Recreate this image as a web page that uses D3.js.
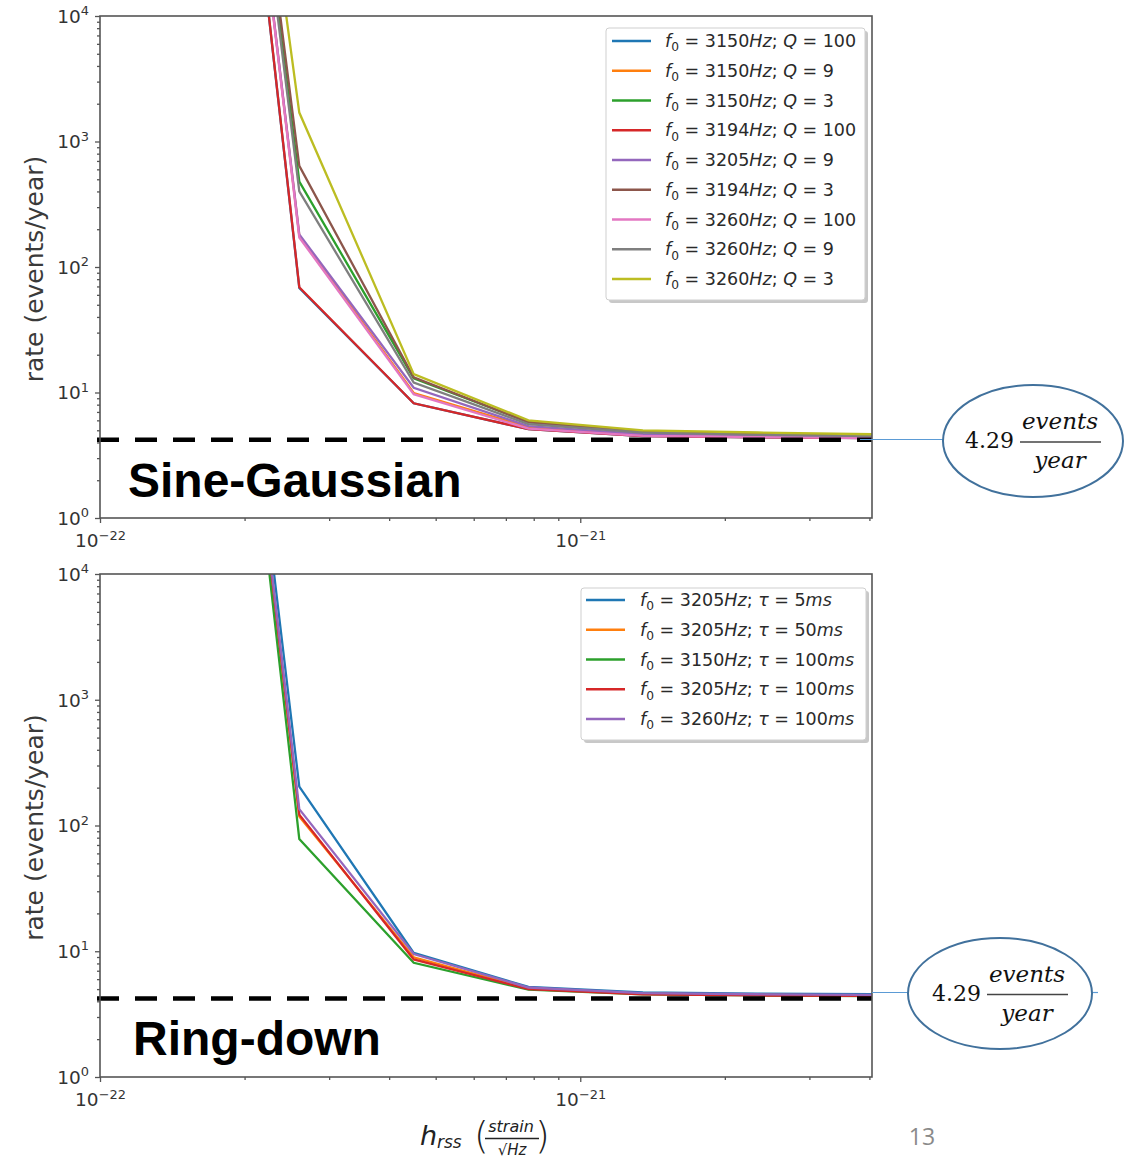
<!DOCTYPE html>
<html><head><meta charset="utf-8">
<script src="https://cdn.jsdelivr.net/npm/d3@7"></script>
<style>body{margin:0;background:#fff} svg{display:block}</style>
</head><body><svg id="c" width="1125" height="1159"></svg>
<script>
// injection amplitudes (hrss, strain/sqrt(Hz))
const hrss = [1.5e-22, 2.6e-22, 4.5e-22, 7.8e-22, 1.35e-21, 2.34e-21, 4.05e-21];

// Sine-Gaussian injections
const sgF0 = [3150, 3150, 3150, 3194, 3205, 3194, 3260, 3260, 3260];
const sgQ  = [100, 9, 3, 100, 9, 3, 100, 9, 3];
const sgRates = [
  [1e10,   68, 8.2,  5.10, 4.50, 4.40, 4.34],
  [1e10,  178, 9.9,  5.30, 4.60, 4.45, 4.38],
  [1e10,  480, 13.0, 5.80, 4.90, 4.70, 4.60],
  [1e10,   69, 8.2,  5.10, 4.50, 4.40, 4.34],
  [1e10,  182, 10.9, 5.40, 4.65, 4.50, 4.40],
  [1e10,  640, 13.2, 5.80, 4.90, 4.70, 4.55],
  [1e10,  172, 9.7,  5.15, 4.52, 4.42, 4.33],
  [1e10,  400, 12.0, 5.60, 4.80, 4.60, 4.50],
  [1e10, 1700, 14.0, 6.00, 5.00, 4.80, 4.65]
];

// Ring-down injections
const rdF0  = [3205, 3205, 3150, 3205, 3260];
const rdTau = [5, 50, 100, 100, 100];
const rdRates = [
  [1e10, 204, 9.7,  5.20, 4.70, 4.60, 4.55],
  [1e10, 118, 8.95, 5.05, 4.60, 4.50, 4.45],
  [1e10,  78, 8.1,  4.95, 4.55, 4.45, 4.40],
  [1e10, 122, 8.6,  5.00, 4.55, 4.45, 4.42],
  [1e10, 135, 9.5,  5.15, 4.65, 4.55, 4.50]
];

// background rate threshold
const threshold = 4.29;

// axis ticks (decade exponents)
const yTickExps = [0, 1, 2, 3, 4];
const xTickExps = [-22, -21];
const yMinor = [];
for (let e = 0; e < 4; e++) for (let m = 2; m <= 9; m++) yMinor.push(m * Math.pow(10, e));
const xMinor = [2,3,4,5,6,7,8,9].map(m => m * 1e-22).concat([2,3,4].map(m => m * 1e-21));

const colors = d3.schemeCategory10;
const svg = d3.select("#c");
svg.append("rect").attr("width", 1125).attr("height", 1159).attr("fill", "#fff");

const L = 100, R = 872;
const x = d3.scaleLog().domain([1e-22, 4.05e-21]).range([L, R]);

function mathText(g, parts, fs) {
  const t = g.append("text").attr("font-family", "DejaVu Sans").attr("font-size", fs).attr("fill", "#2a2a2a");
  parts.forEach(p => {
    const s = t.append("tspan").text(p.t);
    if (p.i) s.attr("font-style", "italic");
    if (p.sub) s.attr("font-size", fs * 0.7).attr("dy", fs * 0.25);
    if (p.back) s.attr("dy", -fs * 0.25);
  });
  return t;
}

function powLabel(sel, exp, fs) {
  sel.text(null);
  sel.append("tspan").text("10");
  sel.append("tspan").attr("font-size", fs * 0.7).attr("dy", -fs * 0.42)
    .text(String(exp).replace("-", "\u2212"));
}

function panel(cfg) {
  const y = d3.scaleLog().domain([1, 1e4]).range([cfg.bottom, cfg.top]);
  const g = svg.append("g");
  const clipId = "clip" + cfg.top;
  svg.append("clipPath").attr("id", clipId).append("rect")
    .attr("x", L).attr("y", cfg.top).attr("width", R - L).attr("height", cfg.bottom - cfg.top);

  // series lines
  const line = d3.line().x((d, i) => x(hrss[i])).y(d => y(d));
  const lg = g.append("g").attr("clip-path", `url(#${clipId})`);
  cfg.rates.forEach((r, k) => {
    lg.append("path").attr("d", line(r)).attr("fill", "none")
      .attr("stroke", colors[k]).attr("stroke-width", 2.3).attr("stroke-linejoin", "miter");
  });

  // threshold line
  g.append("line").attr("x1", 97).attr("x2", R).attr("y1", y(threshold) + 1).attr("y2", y(threshold) + 1)
    .attr("stroke", "#000").attr("stroke-width", 4.5).attr("stroke-dasharray", "22 16");

  // axes
  const yAx = g.append("g").attr("transform", `translate(${L},0)`)
    .call(d3.axisLeft(y).tickValues(yTickExps.map(e => Math.pow(10, e))).tickSize(5).tickSizeOuter(0).tickPadding(6));
  yAx.selectAll(".tick text").each(function (d) { powLabel(d3.select(this), Math.round(Math.log10(d)), 18.5); })
    .attr("font-family", "DejaVu Sans").attr("font-size", 18.5).attr("fill", "#333").attr("dy", "0.35em");
  g.append("g").attr("transform", `translate(${L},0)`)
    .call(d3.axisLeft(y).tickValues(yMinor).tickSize(3).tickFormat(""));
  const xAx = g.append("g").attr("transform", `translate(0,${cfg.bottom})`)
    .call(d3.axisBottom(x).tickValues(xTickExps.map(e => Math.pow(10, e))).tickSize(5).tickSizeOuter(0).tickPadding(5));
  xAx.selectAll(".tick text").each(function (d) { powLabel(d3.select(this), Math.round(Math.log10(d)), 18.5); })
    .attr("font-family", "DejaVu Sans").attr("font-size", 18.5).attr("fill", "#333").attr("dy", "1.05em");
  g.append("g").attr("transform", `translate(0,${cfg.bottom})`)
    .call(d3.axisBottom(x).tickValues(xMinor).tickSize(3).tickFormat(""));
  g.selectAll(".domain").remove();
  g.selectAll(".tick line").attr("stroke", "#555").attr("stroke-width", 1.3);

  g.append("rect").attr("x", L).attr("y", cfg.top).attr("width", R - L).attr("height", cfg.bottom - cfg.top)
    .attr("fill", "none").attr("stroke", "#555").attr("stroke-width", 1.6);

  // y label
  g.append("text").attr("transform", `translate(43,${(cfg.top + cfg.bottom) / 2 + 2}) rotate(-90)`)
    .attr("text-anchor", "middle").attr("font-family", "DejaVu Sans").attr("font-size", 25)
    .attr("fill", "#3a3a3a").text("rate (events/year)");

  // panel title
  g.append("text").attr("x", cfg.titleX).attr("y", cfg.titleY).attr("font-family", "Liberation Sans, Arial")
    .attr("font-weight", "bold").attr("font-size", 48).attr("fill", "#000").text(cfg.title);

  // legend
  const lgd = cfg.legend;
  const bh = lgd.h;
  svg.append("rect").attr("x", lgd.x + 3).attr("y", lgd.y + 3).attr("width", lgd.w).attr("height", bh)
    .attr("rx", 3).attr("fill", "#b0b0b0").attr("opacity", 0.7);
  svg.append("rect").attr("x", lgd.x).attr("y", lgd.y).attr("width", lgd.w).attr("height", bh)
    .attr("rx", 3).attr("fill", "#fff").attr("stroke", "#cfcfcf").attr("stroke-width", 1);
  lgd.labels.forEach((parts, k) => {
    const yy = lgd.y0 + k * 29.75;
    svg.append("line").attr("x1", lgd.lx).attr("x2", lgd.lx + 39).attr("y1", yy).attr("y2", yy)
      .attr("stroke", colors[k]).attr("stroke-width", 2.3);
    mathText(svg, parts, 17.5).attr("x", lgd.tx).attr("y", yy + 6);
  });

  // threshold annotation
  const an = cfg.note;
  svg.append("line").attr("x1", an.x1).attr("x2", an.cx - an.rx).attr("y1", an.ly).attr("y2", an.ly)
    .attr("stroke", "#5b9bd5").attr("stroke-width", 1.2);
  if (an.tail) svg.append("line").attr("x1", an.cx + an.rx).attr("x2", an.cx + an.rx + 6)
    .attr("y1", an.ly).attr("y2", an.ly).attr("stroke", "#5b9bd5").attr("stroke-width", 1.2);
  svg.append("ellipse").attr("cx", an.cx).attr("cy", an.cy).attr("rx", an.rx).attr("ry", an.ry)
    .attr("fill", "#fff").attr("stroke", "#41719c").attr("stroke-width", 2);
  svg.append("text").attr("x", an.cx - 68).attr("y", an.cy + 7).attr("font-family", "DejaVu Serif")
    .attr("font-size", 22).attr("fill", "#111").text(String(threshold));
  svg.append("line").attr("x1", an.cx - 13).attr("x2", an.cx + 68).attr("y1", an.cy + 1).attr("y2", an.cy + 1)
    .attr("stroke", "#444").attr("stroke-width", 1.5);
  svg.append("text").attr("x", an.cx + 27).attr("y", an.cy - 12).attr("text-anchor", "middle")
    .attr("font-family", "DejaVu Serif").attr("font-style", "italic").attr("font-size", 23).attr("fill", "#111").text("events");
  svg.append("text").attr("x", an.cx + 27).attr("y", an.cy + 27).attr("text-anchor", "middle")
    .attr("font-family", "DejaVu Serif").attr("font-style", "italic").attr("font-size", 23).attr("fill", "#111").text("year");
}

const sgLabels = sgF0.map((f, i) => [
  { t: "f", i: 1 }, { t: "0", sub: 1 }, { t: " = " + f, back: 1 }, { t: "Hz", i: 1 }, { t: "; " },
  { t: "Q", i: 1 }, { t: " = " + sgQ[i] }
]);
const rdLabels = rdF0.map((f, i) => [
  { t: "f", i: 1 }, { t: "0", sub: 1 }, { t: " = " + f, back: 1 }, { t: "Hz", i: 1 }, { t: "; " },
  { t: "\u03c4", i: 1 }, { t: " = " + rdTau[i] }, { t: "ms", i: 1 }
]);

panel({
  top: 16, bottom: 518, rates: sgRates, title: "Sine-Gaussian", titleX: 128, titleY: 497,
  legend: { x: 606, y: 28, w: 259, h: 272, y0: 41, lx: 612, tx: 665, labels: sgLabels },
  note: { cx: 1033, cy: 441, rx: 90, ry: 56, ly: 439.5, x1: 860, tail: false }
});
panel({
  top: 574, bottom: 1077, rates: rdRates, title: "Ring-down", titleX: 133, titleY: 1055,
  legend: { x: 581, y: 588, w: 285, h: 152, y0: 600, lx: 586, tx: 640, labels: rdLabels },
  note: { cx: 1000, cy: 993.5, rx: 92, ry: 55.5, ly: 992.5, x1: 872, tail: true }
});

// x-axis label: h_rss (strain / sqrt(Hz))
const xl = svg.append("g");
xl.append("text").attr("x", 420).attr("y", 1145).attr("font-family", "DejaVu Sans").attr("font-style", "italic")
  .attr("font-size", 27).attr("fill", "#222").text("h");
xl.append("text").attr("x", 437).attr("y", 1148).attr("font-family", "DejaVu Sans").attr("font-style", "italic")
  .attr("font-size", 17).attr("fill", "#222").text("rss");
xl.append("text").attr("x", 474).attr("y", 1148).attr("font-family", "DejaVu Sans").attr("font-weight", "200")
  .attr("font-size", 38).attr("fill", "#222").text("(");
xl.append("text").attr("x", 535).attr("y", 1148).attr("font-family", "DejaVu Sans").attr("font-weight", "200")
  .attr("font-size", 38).attr("fill", "#222").text(")");
xl.append("text").attr("x", 511).attr("y", 1132).attr("text-anchor", "middle").attr("font-family", "DejaVu Sans")
  .attr("font-style", "italic").attr("font-size", 16).attr("fill", "#222").text("strain");
xl.append("line").attr("x1", 485).attr("x2", 539).attr("y1", 1138.5).attr("y2", 1138.5).attr("stroke", "#222").attr("stroke-width", 1.3);
xl.append("text").attr("x", 512).attr("y", 1155).attr("text-anchor", "middle").attr("font-family", "DejaVu Sans")
  .attr("font-style", "italic").attr("font-size", 15).attr("fill", "#222").text("\u221aHz");

// slide number
svg.append("text").attr("x", 922).attr("y", 1145).attr("text-anchor", "middle").attr("font-family", "Open Sans")
  .attr("font-size", 23).attr("fill", "#8a8a8a").text("13");
</script></body></html>
